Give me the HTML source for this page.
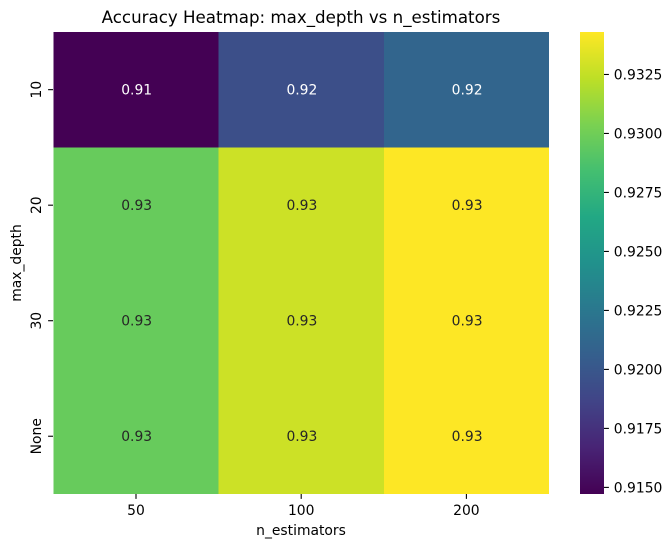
<!DOCTYPE html>
<html lang="en">
<head>
<meta charset="utf-8">
<title>Accuracy Heatmap</title>
<style>
html,body{margin:0;padding:0;background:#fff;width:671px;height:547px;overflow:hidden}
svg{display:block}
text{font-family:"DejaVu Sans",sans-serif;font-size:13.89px;fill:#000}
</style>
</head>
<body>
<svg id="chart" xmlns="http://www.w3.org/2000/svg" width="671" height="547" viewBox="0 0 671 547"></svg>
<script>
const columnLabels = ['50', '100', '200'];
const rowLabels = ['10', '20', '30', 'None'];
const row10Values = [0.9147, 0.9194, 0.9211];
const row20Values = [0.9297, 0.9328, 0.9343];
const row30Values = [0.9297, 0.9328, 0.9343];
const rowNoneValues = [0.9297, 0.9328, 0.9343];
const colorbarTicks = [0.9150, 0.9175, 0.9200, 0.9225, 0.9250, 0.9275, 0.9300, 0.9325];
const colorMin = 0.91472;
const colorMax = 0.9343;

const rowsData = [row10Values, row20Values, row30Values, rowNoneValues];
const viridis = ['#440154','#482475','#414487','#355f8d','#2a788e','#21918c','#22a884','#44bf70','#7ad151','#bddf26','#fde725'];
const plot = {left: 53.4, right: 549, top: 31.9, bottom: 494};
const bar = {left: 580, right: 604, top: 32, bottom: 494};
const svg = document.getElementById('chart');
const NS = 'http://www.w3.org/2000/svg';

function make(tag, attrs, text) {
  const el = document.createElementNS(NS, tag);
  for (const k in attrs) el.setAttribute(k, attrs[k]);
  if (text !== undefined) el.textContent = text;
  svg.appendChild(el);
  return el;
}
function hexToRgb(h) {
  return [1, 3, 5].map(function (i) { return parseInt(h.substr(i, 2), 16); });
}
function norm(v) {
  return Math.max(0, Math.min(1, (v - colorMin) / (colorMax - colorMin)));
}
function colorAt(t) {
  const p = t * (viridis.length - 1);
  const i = Math.min(Math.floor(p), viridis.length - 2);
  const f = p - i;
  const a = hexToRgb(viridis[i]);
  const b = hexToRgb(viridis[i + 1]);
  const c = a.map(function (x, n) { return Math.round(x + (b[n] - x) * f); });
  return 'rgb(' + c.join(',') + ')';
}
function xScale(i) {
  return plot.left + (plot.right - plot.left) * i / columnLabels.length;
}
function yScale(i) {
  return plot.top + (plot.bottom - plot.top) * i / rowLabels.length;
}
function barY(v) {
  return bar.bottom - (v - colorMin) / (colorMax - colorMin) * (bar.bottom - bar.top);
}

rowsData.forEach(function (row, r) {
  row.forEach(function (value, c) {
    const cell = make('rect', {
      x: xScale(c), y: yScale(r),
      width: xScale(c + 1) - xScale(c), height: yScale(r + 1) - yScale(r),
      fill: colorAt(norm(value)),
      'shape-rendering': 'crispEdges'
    });
    
    
  });
});

rowsData.forEach(function (row, r) {
  row.forEach(function (value, c) {
    const label = make('text', {
      x: (xScale(c) + xScale(c + 1)) / 2 + 0.7, y: (yScale(r) + yScale(r + 1)) / 2 + 5,
      'text-anchor': 'middle',
      style: 'fill:' + (norm(value) < 0.5 ? '#ffffff' : '#262626')
    }, value.toFixed(2));
    
    
  });
});

columnLabels.forEach(function (name, c) {
  const x = (xScale(c) + xScale(c + 1)) / 2;
  const tick = make('line', {x1: x, x2: x, y1: plot.bottom, y2: plot.bottom + 4.9, stroke: '#000', 'stroke-width': 1.1});
  
  
  const label = make('text', {x: x, y: 515, 'text-anchor': 'middle'}, name);
  
  
});

rowLabels.forEach(function (name, r) {
  const y = (yScale(r) + yScale(r + 1)) / 2;
  const tick = make('line', {x1: plot.left - 5.3, x2: plot.left - 0.4, y1: y, y2: y, stroke: '#000', 'stroke-width': 1.1});
  
  
  const label = make('text', {x: 41, y: y, 'text-anchor': 'middle', transform: 'rotate(-90 41 ' + y + ')'}, name);
  
  
});

const barSteps = bar.bottom - bar.top;
for (let i = 0; i < barSteps; i++) {
  const seg = make('rect', {
    x: bar.left, y: bar.top + i,
    width: bar.right - bar.left, height: i === barSteps - 1 ? 1 : 1.5,
    fill: colorAt(1 - i / (barSteps - 1))
  });
  
  
}

colorbarTicks.forEach(function (value) {
  const y = barY(value);
  const tick = make('line', {x1: bar.right, x2: bar.right + 4.9, y1: y, y2: y, stroke: '#000', 'stroke-width': 1.1});
  
  
  const label = make('text', {x: 613.8, y: y + 5}, value.toFixed(4));
  
  
});

const title = make('text', {x: 301, y: 23, 'text-anchor': 'middle', style: 'font-size:16.67px'}, 'Accuracy Heatmap: max_depth vs n_estimators');



const xTitle = make('text', {x: 301, y: 535, 'text-anchor': 'middle'}, 'n_estimators');



const yTitle = make('text', {x: 21, y: 263, 'text-anchor': 'middle', transform: 'rotate(-90 21 263)'}, 'max_depth');


</script>
</body>
</html>
